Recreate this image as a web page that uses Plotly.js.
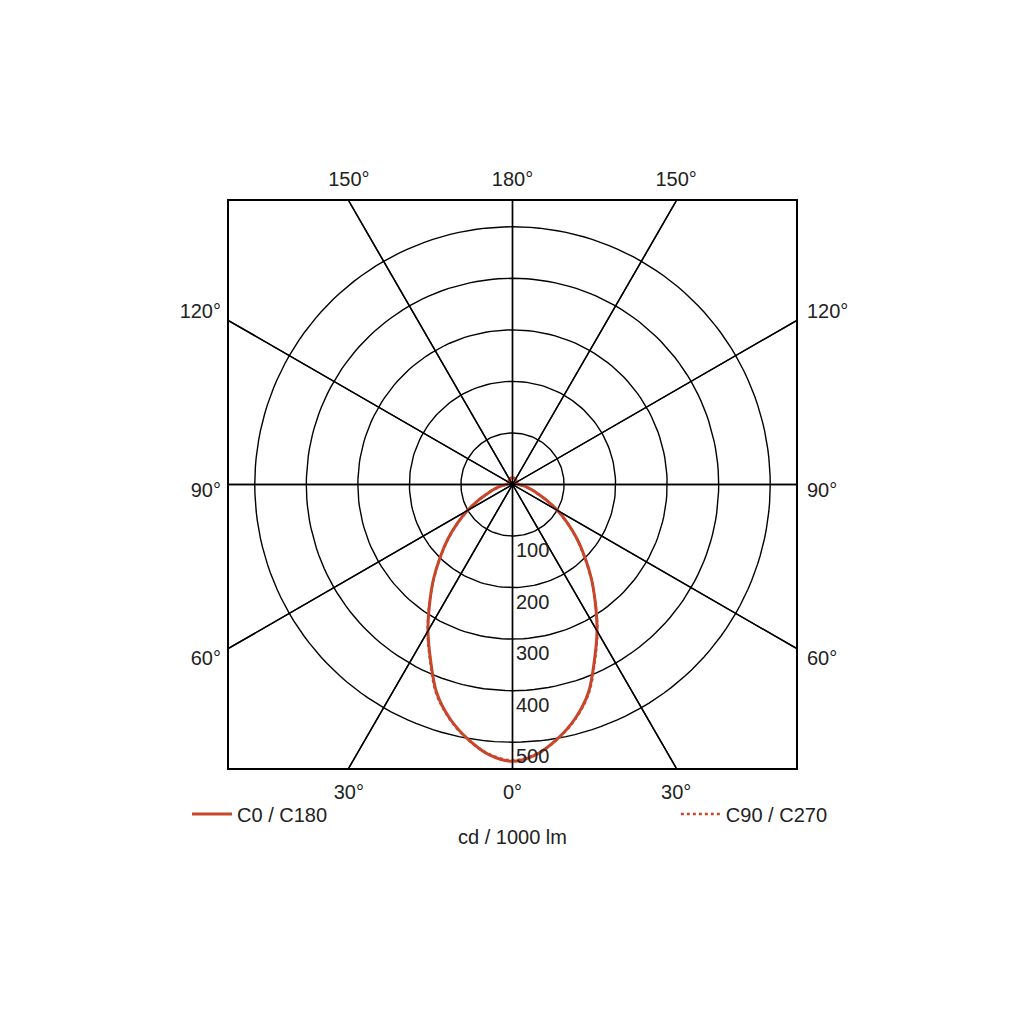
<!DOCTYPE html>
<html>
<head>
<meta charset="utf-8">
<script src="https://cdn.plot.ly/plotly-3.0.1.min.js"></script>
<style>
  html, body { margin: 0; padding: 0; background: #fff; }
  #chart { width: 1024px; height: 1024px; }
</style>
</head>
<body>
<div id="chart"></div>
<script>
// gamma angles (deg from nadir) and luminous intensity in cd / 1000 lm
var gamma = [0, 5, 10, 15, 20, 25, 30, 35, 40, 45, 50, 55, 60, 65, 70, 75, 80, 85, 90, 105, 120, 135, 150, 165, 180];
var c0c180 = [537, 526, 501, 470, 430, 376, 328, 280, 238, 198, 163, 130, 101, 74, 52, 38, 28, 18, 12, 9, 9, 10, 12, 13, 13];
var c90c270 = [535, 525, 502, 471, 432, 378, 329, 281, 237, 197, 162, 129, 100, 73, 52, 37, 27, 17, 11, 9, 9, 10, 12, 13, 13];

// grid
var ringValues = [100, 200, 300, 400, 500];
var spokeAngles = [0, 30, 60, 90, 120, 150, 180, 210, 240, 270, 300, 330];
var boxHalf = 550;

// edge labels
var bottomLabels = ["30°", "0°", "30°"];
var topLabels = ["150°", "180°", "150°"];
var sideLabels = ["120°", "90°", "60°"];

var lineColor = "#c8462a";
var font = "Liberation Sans, Arial, sans-serif";
var textSize = 20;

function rad(d) { return d * Math.PI / 180; }

// full curve: left half (C180 / C270) from 180 down to 0, right half (C0 / C90) back up
function curve(vals) {
  var x = [], y = [];
  for (var i = gamma.length - 1; i >= 0; i--) {
    x.push(-vals[i] * Math.sin(rad(gamma[i])));
    y.push(-vals[i] * Math.cos(rad(gamma[i])));
  }
  for (var j = 1; j < gamma.length; j++) {
    x.push(vals[j] * Math.sin(rad(gamma[j])));
    y.push(-vals[j] * Math.cos(rad(gamma[j])));
  }
  return {x: x, y: y};
}

// rings
var ringX = [], ringY = [];
ringValues.forEach(function (r) {
  for (var a = 0; a <= 360; a += 2) {
    ringX.push(r * Math.sin(rad(a)));
    ringY.push(r * Math.cos(rad(a)));
  }
  ringX.push(null); ringY.push(null);
});

// spokes out to the frame
var spokeX = [], spokeY = [];
spokeAngles.forEach(function (a) {
  var s = Math.sin(rad(a)), c = Math.cos(rad(a));
  var len = boxHalf / Math.max(Math.abs(s), Math.abs(c));
  spokeX.push(0, len * s, null);
  spokeY.push(0, -len * c, null);
});

var edgeTick = boxHalf * Math.tan(rad(30));

var c0 = curve(c0c180);
var c90 = curve(c90c270);

var gridLine = {color: "#000", width: 1.4};

var data = [
  {x: ringX, y: ringY, mode: "lines", line: gridLine, hoverinfo: "skip", showlegend: false},
  {x: spokeX, y: spokeY, mode: "lines", line: gridLine, hoverinfo: "skip", showlegend: false},
  {x: spokeX, y: spokeY, xaxis: "x2", yaxis: "y2", mode: "lines", line: gridLine, hoverinfo: "skip", showlegend: false},
  {x: c0.x, y: c0.y, mode: "lines", name: "C0 / C180", line: {color: lineColor, width: 3, shape: "spline", smoothing: 1}, legend: "legend"},
  {x: c90.x, y: c90.y, mode: "lines", name: "C90 / C270", line: {color: lineColor, width: 2.5, dash: "dot", shape: "spline", smoothing: 1}, legend: "legend2"}
];

var annotations = ringValues.map(function (r) {
  return {x: 0, y: -r, xref: "x", yref: "y", text: String(r), showarrow: false,
          xanchor: "left", yanchor: "top", xshift: 1, yshift: -1,
          font: {family: font, size: textSize, color: "#222"}};
});
annotations.push({x: 0.5, y: -0.1217, xref: "paper", yref: "paper", text: "cd / 1000 lm",
  showarrow: false, xanchor: "center", yanchor: "middle", font: {family: font, size: textSize, color: "#222"}});

var axisCommon = {
  range: [-boxHalf, boxHalf], showgrid: false, zeroline: false, ticks: "",
  showline: true, linecolor: "#000", linewidth: 2, mirror: true, fixedrange: true,
  tickfont: {family: font, size: textSize, color: "#222"}
};

var layout = {
  width: 1024, height: 1024,
  margin: {l: 229, r: 228, t: 201, b: 256},
  paper_bgcolor: "#fff", plot_bgcolor: "#fff",
  xaxis: Object.assign({}, axisCommon, {tickvals: [-edgeTick, 0, edgeTick], ticktext: bottomLabels, ticklabelstandoff: 5}),
  yaxis: Object.assign({}, axisCommon, {tickvals: [336, -10, -336], ticktext: sideLabels, ticklabelstandoff: 2}),
  xaxis2: Object.assign({}, axisCommon, {overlaying: "x", side: "top", tickvals: [-edgeTick, 0, edgeTick], ticktext: topLabels, ticklabelstandoff: 5}),
  yaxis2: Object.assign({}, axisCommon, {overlaying: "y", side: "right", tickvals: [336, -10, -336], ticktext: sideLabels, ticklabelstandoff: 5}),
  legend: {x: -0.074, y: -0.081, xanchor: "left", yanchor: "middle", orientation: "h",
           font: {family: font, size: textSize, color: "#222"}, bgcolor: "rgba(0,0,0,0)", itemwidth: 40},
  legend2: {x: 1.065, y: -0.081, xanchor: "right", yanchor: "middle", orientation: "h",
            font: {family: font, size: textSize, color: "#222"}, bgcolor: "rgba(0,0,0,0)", itemwidth: 40},
  annotations: annotations
};

Plotly.newPlot("chart", data, layout, {displayModeBar: false, staticPlot: true});
</script>
</body>
</html>
